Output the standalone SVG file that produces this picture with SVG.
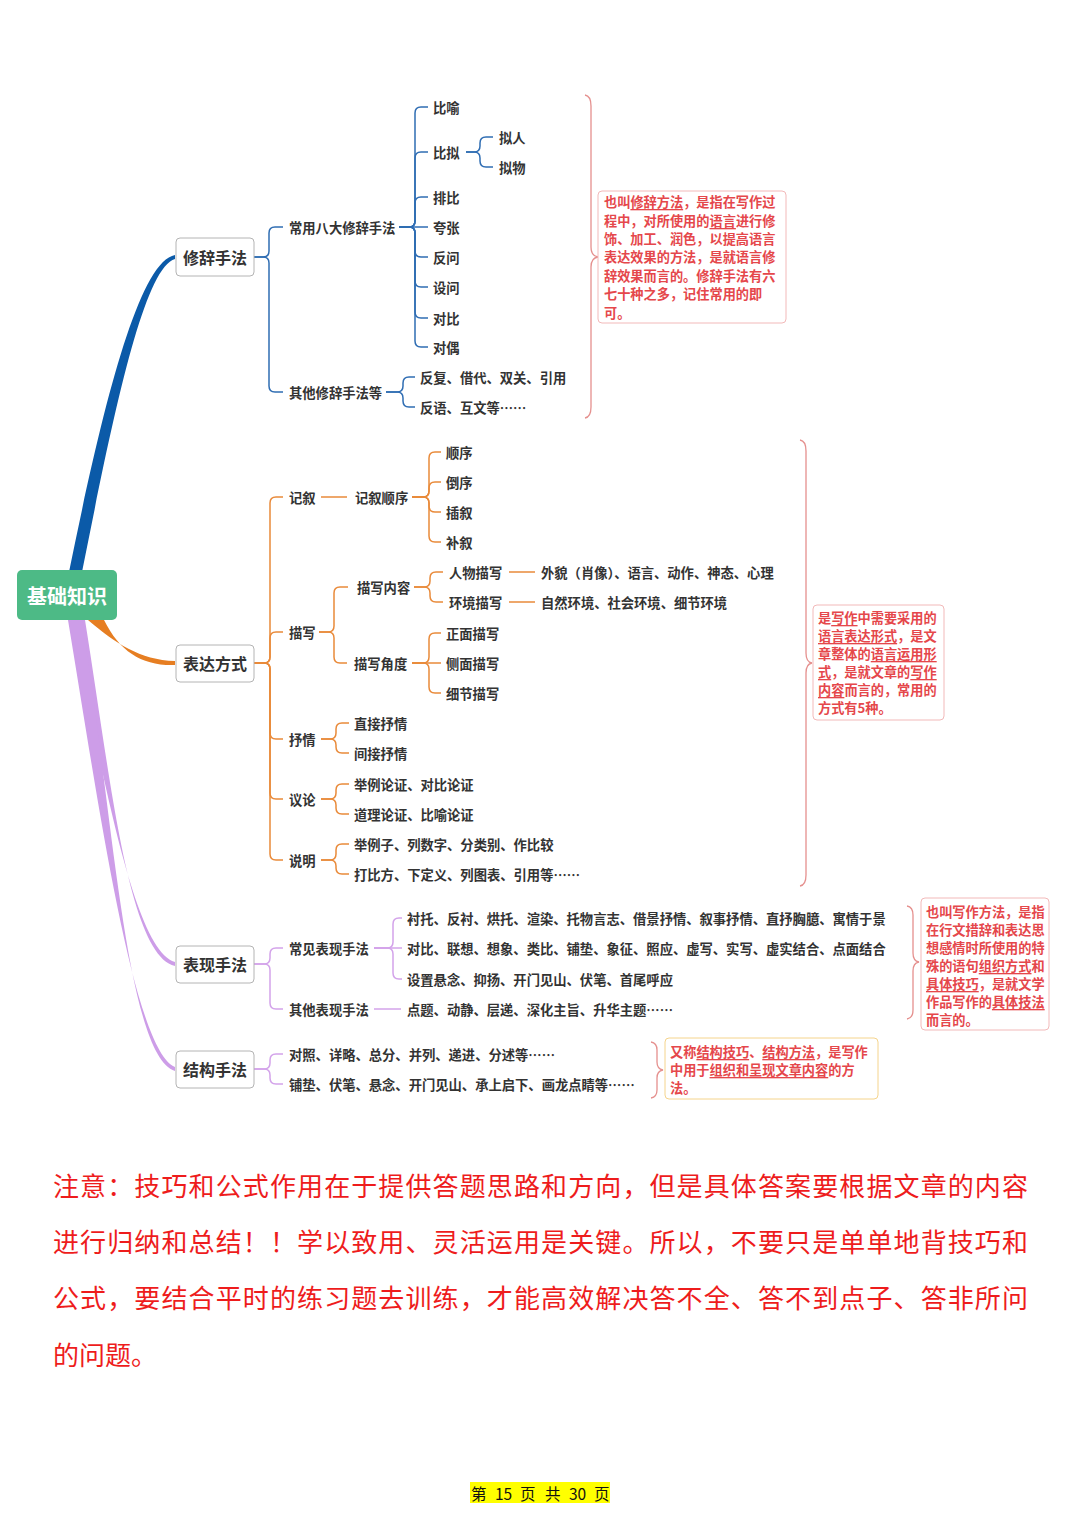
<svg xmlns="http://www.w3.org/2000/svg" width="1080" height="1527" viewBox="0 0 1080 1527">
<style>
text{font-family:"Noto Sans CJK SC","Noto Sans",sans-serif}
.lbl{font-size:13.3px;font-weight:bold;fill:#333;dominant-baseline:central}
.ntx{font-size:16px;font-weight:bold;fill:#333;text-anchor:middle;dominant-baseline:central}
.box{fill:#fff;stroke:#b4b4b4;stroke-width:1}
.note{font-size:13.2px;font-weight:bold;fill:#e5474b;dominant-baseline:central}
.u{text-decoration:underline}
.cb,.co,.cp{fill:none;stroke-width:1.5}
.cb{stroke:#2f6db3}
.co{stroke:#e98a3a}
.cp{stroke:#d3a3ea}
.brace{fill:none;stroke:#e5908e;stroke-width:1.3}
.nbox{fill:#fff;stroke:#f2b9b9;stroke-width:1}
.warn{font-size:26px;fill:#ee1c1c;dominant-baseline:central}
.pg{font-size:15.5px;fill:#111;dominant-baseline:central}
</style>

<g id="connectors">
  <!-- main branches -->
  <path d="M69,572 C100,420 137,262 175,255 L175,259 C143,268 112,422 82,572 Z" fill="#0b5aa8"/>
  <path d="M88,620 C115,643 140,660 175,661 L175,665 C142,666 120,652 104,620 Z" fill="#e67e22"/>
  <path d="M70,620 C103,770 133,950 175,962 L175,966 C128,955 110,775 85,620 Z" fill="#cd9de8"/>
  <path d="M68,620 C98,800 133,1050 175,1067 L175,1071 C126,1056 112,805 82,620 Z" fill="#cd9de8"/>

  <!-- 修辞手法 -->
  <path class="cb" d="M254,257 H263 Q269,257 269,251 V233 Q269,227 275,227 H283"/>
  <path class="cb" d="M254,257 H263 Q269,257 269,263 V386 Q269,392 275,392 H283"/>
  <!-- 常用八大修辞手法 -->
  <path class="cb" d="M399,227 H409 Q415,227 415,221 V113 Q415,107 421,107 H428"/>
  <path class="cb" d="M399,227 H409 Q415,227 415,221 V158 Q415,152 421,152 H428"/>
  <path class="cb" d="M399,227 H409 Q415,227 415,221 V203 Q415,197 421,197 H428"/>
  <path class="cb" d="M399,227 H428"/>
  <path class="cb" d="M399,227 H409 Q415,227 415,233 V251 Q415,257 421,257 H428"/>
  <path class="cb" d="M399,227 H409 Q415,227 415,233 V281 Q415,287 421,287 H428"/>
  <path class="cb" d="M399,227 H409 Q415,227 415,233 V312 Q415,318 421,318 H428"/>
  <path class="cb" d="M399,227 H409 Q415,227 415,233 V341 Q415,347 421,347 H428"/>
  <!-- 比拟 -->
  <path class="cb" d="M466,152 H474 Q480,152 480,146 V143 Q480,137 486,137 H493"/>
  <path class="cb" d="M466,152 H474 Q480,152 480,158 V161 Q480,167 486,167 H493"/>
  <!-- 其他修辞手法等 -->
  <path class="cb" d="M386,392 H397 Q403,392 403,386 V383 Q403,377 409,377 H415"/>
  <path class="cb" d="M386,392 H397 Q403,392 403,398 V401 Q403,407 409,407 H415"/>

  <!-- 表达方式 -->
  <path class="co" d="M254,663 H264 Q270,663 270,657 V503 Q270,497 276,497 H283"/>
  <path class="co" d="M254,663 H264 Q270,663 270,657 V638 Q270,632 276,632 H283"/>
  <path class="co" d="M254,663 H264 Q270,663 270,669 V733 Q270,739 276,739 H283"/>
  <path class="co" d="M254,663 H264 Q270,663 270,669 V793 Q270,799 276,799 H283"/>
  <path class="co" d="M254,663 H264 Q270,663 270,669 V854 Q270,860 276,860 H283"/>
  <!-- 记叙 -->
  <path class="co" d="M321,497 H347"/>
  <path class="co" d="M412,497 H423 Q429,497 429,491 V458 Q429,452 435,452 H441"/>
  <path class="co" d="M412,497 H423 Q429,497 429,491 V488 Q429,482 435,482 H441"/>
  <path class="co" d="M412,497 H423 Q429,497 429,503 V506 Q429,512 435,512 H441"/>
  <path class="co" d="M412,497 H423 Q429,497 429,503 V536 Q429,542 435,542 H441"/>
  <!-- 描写 -->
  <path class="co" d="M319,632 H328 Q334,632 334,626 V593 Q334,587 340,587 H348"/>
  <path class="co" d="M319,632 H328 Q334,632 334,638 V657 Q334,663 340,663 H347"/>
  <path class="co" d="M414,587 H424 Q430,587 430,581 V578 Q430,572 436,572 H443"/>
  <path class="co" d="M414,587 H424 Q430,587 430,593 V596 Q430,602 436,602 H443"/>
  <path class="co" d="M509,572 H535"/>
  <path class="co" d="M509,602 H535"/>
  <path class="co" d="M412,663 H423 Q429,663 429,657 V639 Q429,633 435,633 H441"/>
  <path class="co" d="M412,663 H441"/>
  <path class="co" d="M412,663 H423 Q429,663 429,669 V687 Q429,693 435,693 H441"/>
  <!-- 抒情 / 议论 / 说明 -->
  <path class="co" d="M321,739 H330 Q336,739 336,733 V729 Q336,723 342,723 H349"/>
  <path class="co" d="M321,739 H330 Q336,739 336,745 V747 Q336,753 342,753 H349"/>
  <path class="co" d="M321,799 H330 Q336,799 336,793 V790 Q336,784 342,784 H349"/>
  <path class="co" d="M321,799 H330 Q336,799 336,805 V808 Q336,814 342,814 H349"/>
  <path class="co" d="M321,860 H330 Q336,860 336,854 V850 Q336,844 342,844 H349"/>
  <path class="co" d="M321,860 H330 Q336,860 336,866 V868 Q336,874 342,874 H349"/>

  <!-- 表现手法 -->
  <path class="cp" d="M254,964 H264 Q270,964 270,958 V954 Q270,948 276,948 H283"/>
  <path class="cp" d="M254,964 H264 Q270,964 270,970 V1003 Q270,1009 276,1009 H283"/>
  <path class="cp" d="M374,948 H387 Q393,948 393,942 V924 Q393,918 399,918 H402"/>
  <path class="cp" d="M374,948 H402"/>
  <path class="cp" d="M374,948 H387 Q393,948 393,954 V973 Q393,979 399,979 H402"/>
  <path class="cp" d="M374,1009 H401"/>
  <!-- 结构手法 -->
  <path class="cp" d="M254,1069 H264 Q270,1069 270,1063 V1060 Q270,1054 276,1054 H283"/>
  <path class="cp" d="M254,1069 H264 Q270,1069 270,1075 V1078 Q270,1084 276,1084 H283"/>

  <!-- summary braces -->
  <path class="brace" d="M585,95 Q591,96 591,106 V247 Q591,256 598,257 Q591,258 591,267 V407 Q591,417 585,418"/>
  <path class="brace" d="M800,440 Q806,441 806,451 V653 Q806,662 812,663 Q806,664 806,673 V875 Q806,885 800,886"/>
  <path class="brace" d="M907,906 Q913,907 913,915 V953 Q913,961 919,962 Q913,963 913,971 V1010 Q913,1018 907,1019"/>
  <path class="brace" d="M651,1042 Q657,1043 657,1050 V1062 Q657,1069 663,1070 Q657,1071 657,1078 V1090 Q657,1097 651,1098"/>
</g>

<g id="root">
  <rect x="17" y="570" width="100" height="50" rx="5" fill="#4dba86"/>
  <text x="67" y="595" font-size="20" font-weight="bold" fill="#fff" text-anchor="middle" dominant-baseline="central">基础知识</text>
</g>

<g id="n-xiuci">
  <rect class="box" x="176" y="238" width="78" height="38" rx="4"/>
  <text class="ntx" x="215" y="257">修辞手法</text>
</g>
<g id="n-biaoda">
  <rect class="box" x="176" y="645" width="78" height="37" rx="4"/>
  <text class="ntx" x="215" y="663">表达方式</text>
</g>
<g id="n-biaoxian">
  <rect class="box" x="176" y="946" width="78" height="37" rx="4"/>
  <text class="ntx" x="215" y="964">表现手法</text>
</g>
<g id="n-jiegou">
  <rect class="box" x="176" y="1051" width="78" height="37" rx="4"/>
  <text class="ntx" x="215" y="1069">结构手法</text>
</g>

<g id="xiuci-children">
  <text class="lbl" x="289" y="227">常用八大修辞手法</text>
  <text class="lbl" x="289" y="392">其他修辞手法等</text>
  <text class="lbl" x="433" y="107">比喻</text>
  <text class="lbl" x="433" y="152">比拟</text>
  <text class="lbl" x="499" y="137">拟人</text>
  <text class="lbl" x="499" y="167">拟物</text>
  <text class="lbl" x="433" y="197">排比</text>
  <text class="lbl" x="433" y="227">夸张</text>
  <text class="lbl" x="433" y="257">反问</text>
  <text class="lbl" x="433" y="287">设问</text>
  <text class="lbl" x="433" y="318">对比</text>
  <text class="lbl" x="433" y="347">对偶</text>
  <text class="lbl" x="420" y="377">反复、借代、双关、引用</text>
  <text class="lbl" x="420" y="407">反语、互文等……</text>
</g>

<g id="biaoda-children">
  <text class="lbl" x="289" y="497">记叙</text>
  <text class="lbl" x="355" y="497">记叙顺序</text>
  <text class="lbl" x="446" y="452">顺序</text>
  <text class="lbl" x="446" y="482">倒序</text>
  <text class="lbl" x="446" y="512">插叙</text>
  <text class="lbl" x="446" y="542">补叙</text>
  <text class="lbl" x="289" y="632">描写</text>
  <text class="lbl" x="357" y="587">描写内容</text>
  <text class="lbl" x="449" y="572">人物描写</text>
  <text class="lbl" x="541" y="572">外貌（肖像）、语言、动作、神态、心理</text>
  <text class="lbl" x="449" y="602">环境描写</text>
  <text class="lbl" x="541" y="602">自然环境、社会环境、细节环境</text>
  <text class="lbl" x="354" y="663">描写角度</text>
  <text class="lbl" x="446" y="633">正面描写</text>
  <text class="lbl" x="446" y="663">侧面描写</text>
  <text class="lbl" x="446" y="693">细节描写</text>
  <text class="lbl" x="289" y="739">抒情</text>
  <text class="lbl" x="354" y="723">直接抒情</text>
  <text class="lbl" x="354" y="753">间接抒情</text>
  <text class="lbl" x="289" y="799">议论</text>
  <text class="lbl" x="354" y="784">举例论证、对比论证</text>
  <text class="lbl" x="354" y="814">道理论证、比喻论证</text>
  <text class="lbl" x="289" y="860">说明</text>
  <text class="lbl" x="354" y="844">举例子、列数字、分类别、作比较</text>
  <text class="lbl" x="354" y="874">打比方、下定义、列图表、引用等……</text>
</g>

<g id="biaoxian-children">
  <text class="lbl" x="289" y="948">常见表现手法</text>
  <text class="lbl" x="289" y="1009">其他表现手法</text>
  <text class="lbl" x="407" y="918">衬托、反衬、烘托、渲染、托物言志、借景抒情、叙事抒情、直抒胸臆、寓情于景</text>
  <text class="lbl" x="407" y="948">对比、联想、想象、类比、铺垫、象征、照应、虚写、实写、虚实结合、点面结合</text>
  <text class="lbl" x="407" y="979">设置悬念、抑扬、开门见山、伏笔、首尾呼应</text>
  <text class="lbl" x="407" y="1009">点题、动静、层递、深化主旨、升华主题……</text>
</g>

<g id="jiegou-children">
  <text class="lbl" x="289" y="1054">对照、详略、总分、并列、递进、分述等……</text>
  <text class="lbl" x="289" y="1084">铺垫、伏笔、悬念、开门见山、承上启下、画龙点睛等……</text>
</g>

<g id="note-xiuci">
  <rect class="nbox" x="598" y="191" width="188" height="132" rx="4"/>
  <text class="note" x="604" y="201">也叫<tspan class="u">修辞方法</tspan>，是指在写作过</text>
  <text class="note" x="604" y="220">程中，对所使用的<tspan class="u">语言</tspan>进行修</text>
  <text class="note" x="604" y="238">饰、加工、润色，以提高语言</text>
  <text class="note" x="604" y="256">表达效果的方法，是就语言修</text>
  <text class="note" x="604" y="275">辞效果而言的。修辞手法有六</text>
  <text class="note" x="604" y="293">七十种之多，记住常用的即</text>
  <text class="note" x="604" y="312">可。</text>
</g>

<g id="note-biaoda">
  <rect class="nbox" x="813" y="605" width="131" height="115" rx="4"/>
  <text class="note" x="818" y="617">是<tspan class="u">写作</tspan>中需要采用的</text>
  <text class="note" x="818" y="635"><tspan class="u">语言表达形式</tspan>，是文</text>
  <text class="note" x="818" y="653">章整体的<tspan class="u">语言运用形</tspan></text>
  <text class="note" x="818" y="671"><tspan class="u">式</tspan>，是就文章的<tspan class="u">写作</tspan></text>
  <text class="note" x="818" y="689"><tspan class="u">内容</tspan>而言的，常用的</text>
  <text class="note" x="818" y="707">方式有5种。</text>
</g>

<g id="note-biaoxian">
  <rect class="nbox" x="921" y="898" width="128" height="132" rx="4"/>
  <text class="note" x="926" y="911">也叫写作方法，是指</text>
  <text class="note" x="926" y="929">在行文措辞和表达思</text>
  <text class="note" x="926" y="947">想感情时所使用的特</text>
  <text class="note" x="926" y="965">殊的语句<tspan class="u">组织方式</tspan>和</text>
  <text class="note" x="926" y="983"><tspan class="u">具体技巧</tspan>，是就文学</text>
  <text class="note" x="926" y="1001">作品写作的<tspan class="u">具体技法</tspan></text>
  <text class="note" x="926" y="1019">而言的。</text>
</g>

<g id="note-jiegou">
  <rect x="665" y="1038" width="213" height="61" rx="4" fill="#fff" stroke="#f5d48c" stroke-width="1"/>
  <text class="note" x="670" y="1051">又称<tspan class="u">结构技巧</tspan>、<tspan class="u">结构方法</tspan>，是写作</text>
  <text class="note" x="670" y="1069">中用于<tspan class="u">组织和呈现文章内容</tspan>的方</text>
  <text class="note" x="670" y="1087">法。</text>
</g>

<g id="warning">
  <text class="warn" x="53" y="1184" textLength="975" lengthAdjust="spacing">注意：技巧和公式作用在于提供答题思路和方向，但是具体答案要根据文章的内容</text>
  <text class="warn" x="53" y="1240" textLength="975" lengthAdjust="spacing">进行归纳和总结！！学以致用、灵活运用是关键。所以，不要只是单单地背技巧和</text>
  <text class="warn" x="53" y="1296" textLength="975" lengthAdjust="spacing">公式，要结合平时的练习题去训练，才能高效解决答不全、答不到点子、答非所问</text>
  <text class="warn" x="53" y="1353">的问题。</text>
</g>

<g id="footer">
  <rect x="470" y="1482" width="140" height="21" fill="#ffff00"/>
  <text class="pg" y="1493"><tspan x="471">第</tspan><tspan x="495">15</tspan><tspan x="520">页</tspan><tspan x="545">共</tspan><tspan x="569">30</tspan><tspan x="594">页</tspan></text>
</g>
</svg>
